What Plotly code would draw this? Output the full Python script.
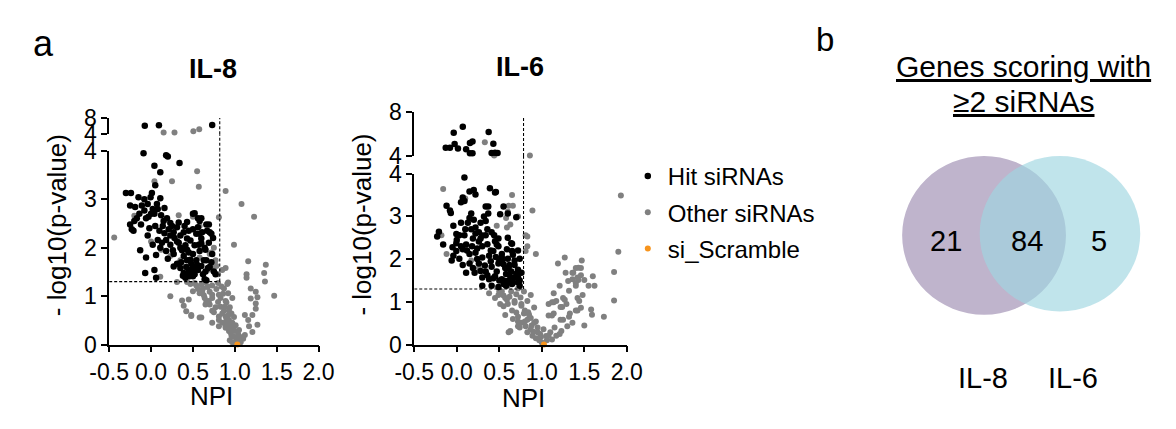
import numpy as np
import plotly.graph_objects as go

W, H = 1176, 429

# ---------------- data ----------------
# IL-8 screen: NPI and -log10(p)
IL8_HIT_NPI = [-0.075, 0.094, 0.73,
    -0.09, 0.04, 0.11, 0.18, 0.2, 0.34, 0.05,
    -0.30, -0.24, -0.15, -0.25, -0.08, 0.01, -0.006, 0.11,
    -0.25, -0.21, -0.17, -0.12, -0.06, -0.08, -0.03, 0.07, 0.08, 0.16, 0.04, 0.12, 0.19, 0.23, 0.14, 0.21, 0.27, 0.31, 0.35, 0.39, 0.43, 0.5, 0.56, 0.58, 0.66, 0.7, 0.5, 0.56, 0.43,
    -0.13, -0.06, -0.07, 0.04, 0.06, -0.04, 0.02, 0.08, 0.11, 0.18, 0.2, 0.23, 0.27, 0.31, 0.35, 0.39, 0.43, 0.31, 0.27, 0.35, 0.39, 0.45, 0.46, 0.52, 0.41, 0.5, 0.54, 0.58, 0.64, 0.6, 0.66, 0.68, 0.77, 0.64, 0.5, 0.43, 0.23, 0.18, -0.23, -0.04, -0.19, 0.02, -0.11,
    0.52, 0.6, 0.69, 0.72, 0.67, 0.54, 0.61, 0.57, 0.65, 0.73, 0.63, 0.48, 0.56, 0.65, 0.75, 0.66, 0.5, 0.6,
    0.28, 0.33, 0.37, 0.41, 0.45, 0.47, 0.36, 0.42, 0.48, 0.44, 0.38, 0.53, 0.55, 0.6, 0.62, 0.7, 0.72, 0.58, 0.45, 0.25, 0.16, 0.1, 0.05, -0.02, 0.0, -0.14, -0.2, 0.13, 0.26, 0.15, 0.33, 0.06, 0.4, 0.47, 0.52, 0.69, 0.74]
IL8_HIT_P = [6.1, 6.2, 6.25,
    3.95, 3.69, 3.56, 3.91, 3.88, 3.75, 3.29,
    3.13, 3.13, 3.04, 2.87, 3.0, 3.13, 3.04, 3.02,
    2.48, 2.35, 2.61, 2.48, 2.61, 2.77, 2.64, 2.9, 2.8, 2.82, 2.7, 2.67, 2.61, 2.51, 2.45, 2.38, 2.32, 2.42, 2.25, 2.32, 2.19, 2.38, 2.42, 2.29, 2.48, 2.32, 2.7, 2.61, 2.53,
    1.95, 1.8, 1.48, 1.54, 1.38, 2.25, 2.06, 2.16, 2.0, 1.93, 1.77, 2.06, 1.87, 2.13, 2.0, 1.83, 1.74, 1.67, 1.61, 1.58, 1.48, 1.54, 1.41, 1.45, 1.38, 1.61, 1.74, 1.93, 2.0, 2.09, 1.74, 1.58, 1.45, 1.35, 1.87, 1.96, 2.25, 2.16, 2.38, 2.9, 2.84, 2.8, 2.87,
    2.71, 2.61, 2.48, 2.29, 2.35, 2.29, 2.32, 2.06, 1.96, 1.87, 1.74, 1.67, 1.54, 1.51, 1.51, 1.33, 1.41, 2.19,
    2.2, 2.1, 1.95, 2.05, 1.9, 1.75, 1.7, 1.6, 1.5, 1.45, 1.42, 1.55, 1.65, 1.62, 1.45, 1.6, 1.7, 2.55, 2.35, 2.45, 2.3, 2.35, 2.45, 2.4, 2.7, 2.7, 2.55, 2.1, 1.95, 2.55, 2.52, 1.85, 2.45, 2.15, 2.05, 2.1, 2.2]

IL8_OTHER_NPI = [0.15, 0.28, 0.505, 0.575,
    -0.44, -0.2, 0.04, 0.25, 0.55, 0.57, 0.89, 1.08, 1.23, 0.81, 0.33, 0.5, 0.58, 0.0, 0.12, 0.23, 0.35, 0.58, 0.7, 0.75, 0.77, 0.99, 0.73, 0.11,
    0.23, 0.37, 0.45, 0.39, 0.42, 0.48, 0.58, 0.66, 0.31, 0.43, 0.54, 0.62, 0.7, 0.73, 0.81, 0.89, 0.77, 0.85, 0.93, 0.81, 0.89, 0.95, 0.99, 1.04, 0.73, 0.7, 0.64, 0.58, 0.73, 0.91, 0.97, 0.99, 0.93,
    1.16, 1.37, 1.14, 1.14, 1.35, 1.36, 1.19, 1.25, 1.19, 1.27, 1.47, 1.25, 1.25, 1.12, 1.21, 1.16, 1.27, 1.17, 1.21, 1.12, 1.06,
    0.85, 0.89, 0.92, 0.87, 0.92, 0.83, 0.9, 0.94, 0.87, 0.96, 0.9, 0.94, 1.0, 0.96, 1.02, 1.04, 1.1, 0.94, 0.73, 0.69, 0.81, 0.85, 0.89, 0.65, 0.61, 0.67, 0.48, 0.6, 0.75, 0.73, 0.81, 0.89,
    0.47, 0.52, 0.6, 0.65, 0.68, 0.56, 0.5, 0.63, 0.78, 0.8, 0.84, 0.86, 0.8, 0.83, 0.88, 0.92, 0.97, 0.91, 0.98, 1.01, 1.05, 0.93, 0.97, 1.07, 1.0,
    0.72, 0.76, 0.78, 0.7, 0.8]
IL8_OTHER_P = [4.4, 4.4, 4.7, 5.2,
    2.21, 2.66, 3.37, 3.37, 3.58, 3.26, 3.17, 2.9, 2.64, 2.63, 2.67, 2.64, 2.45, 2.13, 1.96, 1.83, 1.74, 1.8, 1.87, 2.0, 1.74, 2.06, 1.61, 1.4,
    1.0, 0.91, 0.93, 0.8, 0.69, 0.59, 0.56, 0.9, 1.29, 1.29, 1.22, 1.16, 1.09, 0.96, 1.03, 0.9, 0.77, 0.64, 0.51, 0.51, 0.38, 0.25, 0.16, 0.12, 0.7, 0.83, 0.96, 1.06, 1.22, 1.25, 0.96, 0.57, 0.7,
    1.72, 1.65, 1.45, 1.38, 1.48, 1.3, 1.16, 1.09, 0.95, 0.98, 1.01, 0.85, 0.74, 0.61, 0.61, 0.51, 0.41, 0.38, 0.26, 0.2, 0.16,
    1.54, 1.58, 1.28, 1.16, 1.06, 0.96, 0.87, 0.77, 0.7, 0.64, 0.51, 0.38, 0.28, 0.19, 0.09, 0.22, 0.12, 0.09, 1.03, 0.9, 0.58, 0.45, 0.35, 0.83, 1.09, 1.19, 0.61, 0.56, 0.67, 0.45, 0.38, 0.58,
    1.25, 1.27, 1.24, 1.28, 1.2, 1.15, 1.1, 1.02, 1.15, 1.27, 1.2, 1.05, 0.88, 0.78, 0.78, 0.6, 0.45, 0.44, 0.35, 0.4, 0.3, 0.28, 0.05, 0.05, 0.02,
    1.9, 1.7, 1.62, 1.55, 1.45]

IL8_SCRAMBLE_NPI = [1.03]
IL8_SCRAMBLE_P = [0.0]

# IL-6 screen
IL6_HIT_NPI = [0.071, -0.036, 0.375, -0.13, -0.08, -0.025, 0.014, 0.155, 0.185, 0.11, 0.155, 0.185, 0.43, 0.41, 0.45, 0.48,
    0.09, 0.2, 0.15, 0.22, 0.39, 0.46, 0.07, 0.05, 0.09, -0.12, -0.08, -0.07, 0.34, 0.37, 0.37, 0.55, 0.7, 0.17, 0.15, 0.2, 0.13, 0.22, 0.17, 0.26,
    -0.23, -0.21, -0.04, -0.005, 0.03, 0.09, -0.16, -0.05, -0.005, 0.07, 0.11, 0.19, 0.26, 0.34, 0.41, 0.49, 0.64,
    -0.04, 0.03, 0.07, -0.06, 0.15, 0.22, 0.3, 0.38, 0.43, 0.53, 0.6, 0.68, 0.26, 0.19, 0.21, 0.34, 0.41, 0.49, 0.57, 0.64, 0.72, 0.76,
    0.3, 0.38, 0.45, 0.53, 0.6, 0.68, 0.41, 0.49, 0.58, 0.72, 0.3, 0.11, -0.005, 0.34, 0.28, 0.47, 0.53, 0.62,
    0.45, 0.6, 0.51, 0.44, 0.65, 0.59, 0.65, 0.74, 0.72, 0.68, 0.61, 0.53, 0.49, 0.47, 0.57, 0.65, 0.74,
    0.0, 0.05, 0.12, 0.18, 0.24, 0.3, 0.36, 0.4, 0.46, 0.5, 0.55, 0.58, 0.63, 0.7, 0.74, 0.66, 0.55, 0.5, 0.43, 0.36, 0.28, 0.33, 0.4, 0.45, 0.3, 0.22, 0.1, 0.05, 0.28, 0.32, 0.6, 0.66, 0.72, 0.15, 0.24, 0.36]
IL6_HIT_P = [6.69, 6.12, 6.2, 4.77, 4.77, 5.1, 4.69, 5.2, 5.34, 4.63, 4.26, 4.26, 5.12, 4.28, 4.3, 4.28,
    3.91, 3.62, 3.58, 3.51, 3.66, 3.57, 3.44, 3.33, 3.36, 3.25, 3.14, 3.08, 3.23, 3.23, 3.07, 3.23, 2.98, 3.07, 2.96, 2.92, 2.85, 2.74, 2.7, 2.63,
    2.53, 2.64, 2.78, 2.59, 2.56, 2.56, 2.34, 2.28, 2.19, 2.23, 2.34, 2.48, 2.41, 2.56, 2.63, 2.48, 2.37,
    2.08, 2.01, 1.86, 1.97, 2.12, 2.15, 2.04, 2.08, 2.19, 2.12, 2.01, 1.97, 1.9, 1.79, 1.68, 1.71, 1.82, 1.9, 1.79, 1.71, 1.75, 1.68,
    1.57, 1.53, 1.6, 1.53, 1.49, 1.57, 1.38, 1.35, 1.38, 1.46, 1.38, 1.68, 2.37, 2.89, 2.48, 2.34, 1.97, 1.86,
    3.56, 3.07, 3.05, 2.56, 2.36, 2.23, 2.19, 2.01, 1.57, 1.86, 1.79, 2.04, 2.3, 1.71, 1.49, 1.42, 1.38,
    2.45, 2.3, 2.2, 2.3, 2.25, 2.3, 2.35, 2.2, 2.05, 1.95, 1.88, 1.65, 1.58, 1.66, 1.5, 1.45, 1.42, 1.5, 1.55, 1.62, 1.72, 1.85, 1.95, 2.42, 2.55, 2.6, 2.7, 2.85, 2.85, 3.0, 2.5, 2.1, 2.2, 1.9, 2.0, 2.7]

IL6_OTHER_NPI = [0.33, 0.44, 0.86,
    -0.16, 0.1, -0.18, -0.12, 0.17, 0.26, 0.38, 0.51, 0.57, 0.66, 0.6, 0.58, 0.47, 0.72, 0.81, 0.89, 0.81, 0.93, 0.6,
    0.64, 0.72, 0.79, 0.87, 0.53, 0.45, 0.6, 0.68, 0.76, 0.83, 0.91, 0.79, 0.72, 0.76, 0.83, 0.91, 0.87, 0.95, 0.99, 1.06, 0.63, 0.72, 0.81, 1.02, 1.1, 1.17, 1.23, 1.25, 1.14, 1.08, 1.17, 1.25, 1.29, 1.33, 1.36, 1.4, 1.44, 1.48, 1.36, 1.42, 1.46, 1.47, 1.4, 1.27, 1.19, 1.28, 1.21, 1.14, 1.4, 1.55,
    1.93, 1.9, 1.85, 1.85, 1.73, 1.58, 1.59, 1.5, 1.42, 1.42, 1.46, 1.6, 1.62, 1.43, 1.46, 1.43, 1.5, 1.4, 1.36,
    0.65, 0.61, 0.59, 0.63, 0.83, 0.83, 1.37, 1.31, 1.32, 1.12, 1.14, 1.22, 1.24, 1.27, 1.08, 1.12, 1.22, 1.32, 1.3, 1.21, 1.08, 0.97, 0.89, 0.83, 0.74, 0.61, 0.72, 0.8, 0.87, 0.93, 0.95, 0.84, 0.76, 0.68, 0.59, 0.49, 0.57, 0.65,
    0.5, 0.55, 0.62, 0.7, 0.75, 0.8, 0.85, 0.9, 0.93, 1.0, 1.05, 0.98, 1.12, 1.15, 0.88, 0.7, 0.66, 0.55]
IL6_OTHER_P = [5.26, 4.05, 4.05,
    3.64, 3.42, 2.56, 2.12, 1.97, 1.79, 1.2, 0.95, 1.09, 3.25, 3.11, 2.96, 2.78, 3.0, 2.56, 3.14, 2.19, 2.12, 1.38,
    1.24, 1.31, 1.24, 1.16, 1.24, 1.09, 0.95, 1.02, 0.95, 1.02, 0.87, 0.73, 0.65, 0.51, 0.58, 0.51, 0.36, 0.29, 0.18, 0.1, 0.32, 0.43, 0.43, 0.36, 0.29, 0.21, 0.32, 0.58, 0.73, 0.95, 1.02, 1.09, 0.95, 0.73, 0.51, 0.8, 1.02, 1.16, 1.53, 1.57, 1.79, 1.97, 1.79, 2.04, 1.9, 1.68, 1.38, 1.2, 1.38, 1.38,
    3.49, 2.17, 1.7, 1.03, 0.65, 0.82, 0.7, 0.45, 1.09, 0.8, 0.86, 1.6, 1.38, 1.8, 1.62, 1.51, 1.51, 1.44, 1.68,
    3.5, 3.25, 2.74, 2.81, 2.53, 2.3, 1.68, 1.49, 1.26, 0.99, 0.99, 0.88, 0.88, 1.05, 0.68, 0.68, 0.58, 0.65, 0.43, 0.25, 0.21, 0.1, 0.21, 0.29, 0.4, 0.29, 0.54, 0.54, 0.62, 0.54, 0.4, 0.76, 0.91, 0.98, 1.05, 1.16, 0.69, 0.8,
    1.25, 1.15, 1.12, 1.18, 1.1, 0.8, 0.7, 0.3, 0.15, 0.05, 0.2, 0.25, 0.12, 0.4, 0.45, 0.75, 0.6, 0.9]

IL6_SCRAMBLE_NPI = [1.025]
IL6_SCRAMBLE_P = [0.0]

# thresholds / axis break
P_THRESHOLD = 1.3
IL8_NPI_THRESHOLD = 0.82
IL6_NPI_THRESHOLD = 0.785
Y_BREAK = 4
Y_TOP = 8

X_TICKS = [-0.5, 0.0, 0.5, 1.0, 1.5, 2.0]
X_TICK_TEXT = ["-0.5", "0.0", "0.5", "1.0", "1.5", "2.0"]
Y_LOW_TICKS = [0, 1, 2, 3, 4]
Y_HIGH_TICKS = [4, 8]

VENN_TITLE = ["Genes scoring with", "\u22652 siRNAs"]
VENN_SETS = ["IL-8", "IL-6"]
VENN_COUNTS = ["21", "84", "5"]

# ---------------- styling ----------------
FONT = "Liberation Sans, Arial, Helvetica, sans-serif"
FONT_NARROW = "Liberation Sans Narrow, Arial Narrow, Liberation Sans, Arial, sans-serif"
C_HIT = "#000000"
C_OTHER = "#808080"
C_SCR = "#f7941d"


def fx(px):
    return px / W


def fy(py):
    return 1 - py / H


panels = [
    dict(title="IL-8", hit=(IL8_HIT_NPI, IL8_HIT_P), other=(IL8_OTHER_NPI, IL8_OTHER_P),
         scr=(IL8_SCRAMBLE_NPI, IL8_SCRAMBLE_P), thr=IL8_NPI_THRESHOLD, vtop=8.0,
         xpx=(92, 308), low=(353, 146.7), high=(129, 111.7), ids=("", "2"), legend=True,
         title_xy=(199, 60), ytitle_xy=(38, 226), xtitle_xy=(198, 408)),
    dict(title="IL-6", hit=(IL6_HIT_NPI, IL6_HIT_P), other=(IL6_OTHER_NPI, IL6_OTHER_P),
         scr=(IL6_SCRAMBLE_NPI, IL6_SCRAMBLE_P), thr=IL6_NPI_THRESHOLD, vtop=7.5,
         xpx=(406.7, 626), low=(353, 171), high=(152.3, 105.7), ids=("3", "4"), legend=False,
         title_xy=(516, 57), ytitle_xy=(353, 225), xtitle_xy=(519, 410)),
]

fig = go.Figure()
layout_axes = {}
shapes = []
annotations = []

axis_common = dict(showline=True, linecolor="black", linewidth=1.6, ticks="outside",
                   ticklen=6, tickwidth=1.6, tickcolor="black", showgrid=False, zeroline=False,
                   tickfont=dict(size=23, color="black", family=FONT))

for p in panels:
    lo_id, hi_id = p["ids"]
    xl, yl = "x" + lo_id, "y" + lo_id
    xh, yh = "x" + hi_id, "y" + hi_id
    series = [
        ("Other siRNAs", p["other"], C_OTHER, 6, 2),
        ("Hit siRNAs", p["hit"], C_HIT, 6.5, 1),
        ("si_Scramble", p["scr"], C_SCR, 6, 3),
    ]
    for name, (xs, ys), col, size, rank in series:
        xs = np.asarray(xs, float)
        ys = np.asarray(ys, float)
        lower = ys <= Y_BREAK
        fig.add_trace(go.Scatter(x=xs[lower], y=ys[lower], mode="markers", name=name,
                                 xaxis=xl, yaxis=yl, cliponaxis=False,
                                 marker=dict(color=col, size=size, line=dict(width=0)),
                                 showlegend=p["legend"], legendgroup=name, legendrank=rank))
        fig.add_trace(go.Scatter(x=xs[~lower], y=ys[~lower], mode="markers", name=name,
                                 xaxis=xh, yaxis=yh, cliponaxis=False,
                                 marker=dict(color=col, size=size, line=dict(width=0)),
                                 showlegend=False, legendgroup=name))

    xdom = [fx(p["xpx"][0]), fx(p["xpx"][1])]
    lo_dom = [fy(p["low"][0]), fy(p["low"][1])]
    hi_dom = [fy(p["high"][0]), fy(p["high"][1])]
    layout_axes["xaxis" + lo_id] = dict(domain=xdom, range=[-0.5, 2.0], anchor=yl,
                                        tickvals=X_TICKS, ticktext=X_TICK_TEXT, **axis_common)
    layout_axes["xaxis" + hi_id] = dict(domain=xdom, range=[-0.5, 2.0], anchor=yh,
                                        matches=xl, visible=False)
    layout_axes["yaxis" + lo_id] = dict(domain=lo_dom, range=[0, Y_BREAK], anchor=xl,
                                        tickvals=Y_LOW_TICKS, **axis_common)
    layout_axes["yaxis" + hi_id] = dict(domain=hi_dom, range=[Y_BREAK, Y_TOP], anchor=xh,
                                        tickvals=Y_HIGH_TICKS, **axis_common)

    dash = dict(color="black", width=1.1, dash="3px,2px")
    shapes.append(dict(type="line", xref=xl, yref=yl, x0=-0.5, x1=p["thr"],
                       y0=P_THRESHOLD, y1=P_THRESHOLD, line=dash))
    shapes.append(dict(type="line", xref=xl, yref=yl, x0=p["thr"], x1=p["thr"],
                       y0=P_THRESHOLD, y1=Y_BREAK, line=dash))
    shapes.append(dict(type="line", xref=xl, yref="paper", x0=p["thr"], x1=p["thr"],
                       y0=lo_dom[1], y1=hi_dom[0], line=dash))
    shapes.append(dict(type="line", xref=xh, yref=yh, x0=p["thr"], x1=p["thr"],
                       y0=Y_BREAK, y1=p["vtop"], line=dash))

    tx, ty = p["title_xy"]
    annotations.append(dict(text="<b>%s</b>" % p["title"], x=fx(tx), y=fy(ty), xref="paper",
                            yref="paper", showarrow=False, xanchor="center", yanchor="middle",
                            font=dict(size=27, family=FONT_NARROW, color="black")))
    ax_, ay_ = p["ytitle_xy"]
    annotations.append(dict(text="- log10(p-value)", x=fx(ax_), y=fy(ay_), xref="paper",
                            yref="paper", showarrow=False, textangle=-90, xanchor="center",
                            yanchor="middle", font=dict(size=26, family=FONT, color="black")))
    nx, ny = p["xtitle_xy"]
    annotations.append(dict(text="NPI", x=fx(nx), y=fy(ny), xref="paper", yref="paper",
                            showarrow=False, xanchor="center", yanchor="middle",
                            font=dict(size=26, family=FONT, color="black")))

# panel letters
for letter, (lx, ly), size in [("a", (24, 32), 36), ("b", (830, 28), 33)]:
    annotations.append(dict(text=letter, x=fx(lx), y=fy(ly), xref="paper", yref="paper",
                            showarrow=False, xanchor="center", yanchor="middle",
                            font=dict(size=size, family=FONT, color="black")))

# ---------------- Venn ----------------
venn_circles = [((994.5, 236.7, 84.5), "#bfb4cc"), ((1072.8, 235.0, 82.8), "rgba(160,214,225,0.66)")]
for (cx, cy, r), col in venn_circles:
    shapes.append(dict(type="circle", xref="paper", yref="paper",
                       x0=fx(cx - r), x1=fx(cx + r), y0=fy(cy + r), y1=fy(cy - r),
                       fillcolor=col, line=dict(width=0), layer="above"))
for txt, (tx, ty) in zip(VENN_TITLE, [(1035, 57), (1036, 94)]):
    annotations.append(dict(text="<u>%s</u>" % txt, x=fx(tx), y=fy(ty), xref="paper",
                            yref="paper", showarrow=False, xanchor="center", yanchor="middle",
                            font=dict(size=30, family=FONT, color="black")))
for txt, tx in zip(VENN_COUNTS, [955, 1039, 1113]):
    annotations.append(dict(text=txt, x=fx(tx), y=fy(243), xref="paper", yref="paper",
                            showarrow=False, xanchor="center", yanchor="middle",
                            font=dict(size=29, family=FONT, color="black")))
for txt, tx in zip(VENN_SETS, [993, 1086]):
    annotations.append(dict(text=txt, x=fx(tx), y=fy(389), xref="paper", yref="paper",
                            showarrow=False, xanchor="center", yanchor="middle",
                            font=dict(size=29, family=FONT, color="black")))

fig.update_layout(
    width=W, height=H, autosize=False,
    margin=dict(l=0, r=0, t=0, b=0, pad=0),
    paper_bgcolor="white", plot_bgcolor="rgba(0,0,0,0)",
    font=dict(family=FONT, color="black"),
    shapes=shapes, annotations=annotations,
    showlegend=True,
    legend=dict(x=fx(627), y=fy(150), xanchor="left", yanchor="top",
                font=dict(size=24, family=FONT, color="black"),
                bgcolor="rgba(0,0,0,0)", borderwidth=0, tracegroupgap=2,
                traceorder="grouped"),
    **layout_axes,
)

fig.write_html("out.html")
